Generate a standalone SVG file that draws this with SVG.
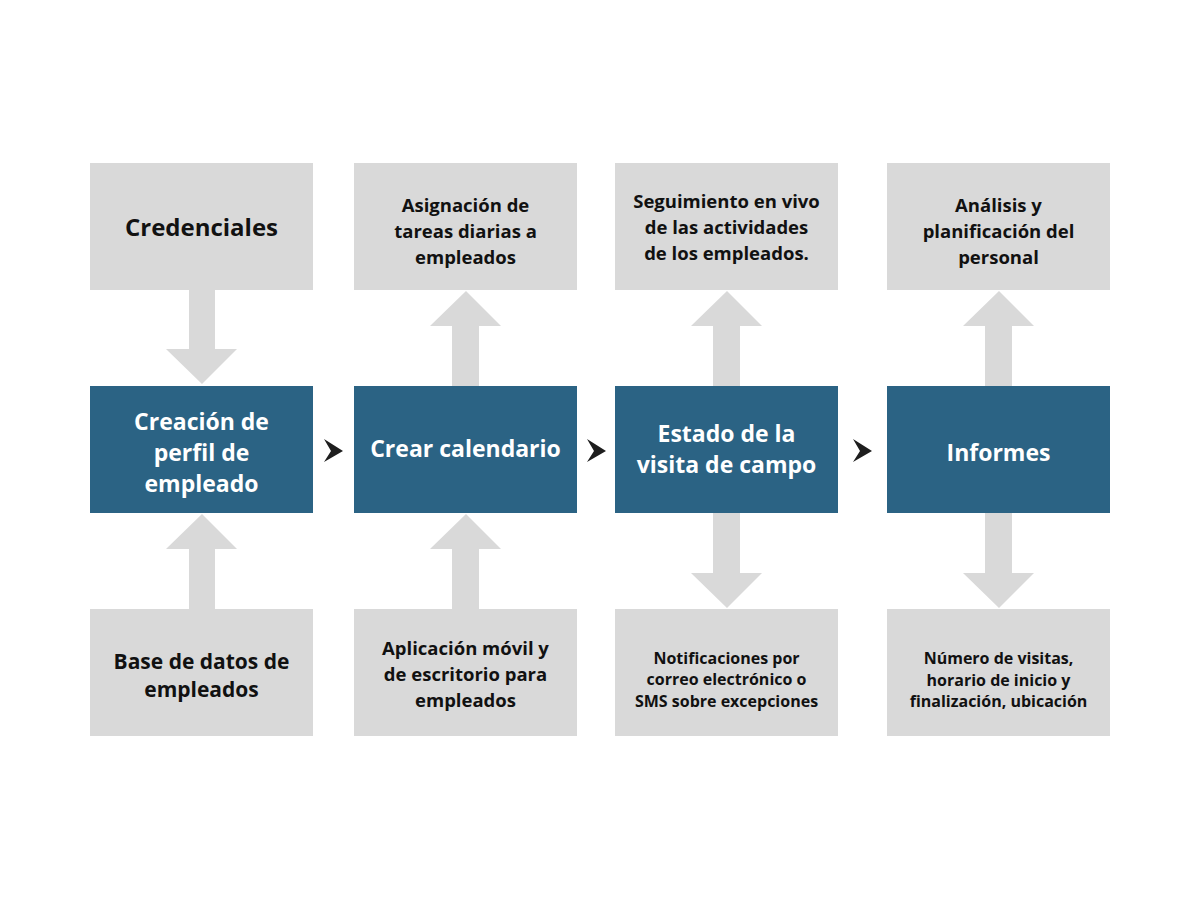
<svg xmlns="http://www.w3.org/2000/svg" width="1200" height="900" viewBox="0 0 1200 900">
<style>
.g{fill:#d9d9d9}
.b{fill:#2b6384}
.ar{fill:#d9d9d9}
.ch{fill:#1e1e1e}
text{font-family:"Open Sans","Liberation Sans",sans-serif;font-weight:700;text-anchor:middle}
.tk{fill:#111}
.tw{fill:#ffffff}
</style>
<rect width="1200" height="900" fill="#ffffff"/>
<g id="connectors">
<path class="ar" d="M189,290 H215 V349 H237 L202,384 L166,349 H189 Z"/>
<path class="ar" d="M189,609 H215 V549 H237 L202,514 L166,549 H189 Z"/>
<path class="ar" d="M452,386 H479 V326 H501 L466,291 L430,326 H452 Z"/>
<path class="ar" d="M452,609 H479 V549 H501 L466,514 L430,549 H452 Z"/>
<path class="ar" d="M713,386 H740 V326 H762 L727,291 L691,326 H713 Z"/>
<path class="ar" d="M713,513 H740 V573 H762 L727,608 L691,573 H713 Z"/>
<path class="ar" d="M985,386 H1012 V326 H1034 L999,291 L963,326 H985 Z"/>
<path class="ar" d="M985,513 H1012 V573 H1034 L999,608 L963,573 H985 Z"/>
<path class="ch" d="M324,439 L343,451 L324,462 L331,451 Z"/>
<path class="ch" d="M587,439 L606,451 L587,462 L594,451 Z"/>
<path class="ch" d="M853,439 L872,451 L853,462 L860,451 Z"/>
</g>
<g id="n-credenciales">
<rect class="g" x="90" y="163" width="223" height="127"/>
<text class="tk" x="201.5" y="236" font-size="24">Credenciales</text>
</g>
<g id="n-asignacion">
<rect class="g" x="354" y="163" width="223" height="127"/>
<text class="tk" font-size="18.5"><tspan x="465.5" y="212">Asignación de</tspan><tspan x="465.5" y="238">tareas diarias a</tspan><tspan x="465.5" y="264">empleados</tspan></text>
</g>
<g id="n-seguimiento">
<rect class="g" x="615" y="163" width="223" height="127"/>
<text class="tk" font-size="18.5"><tspan x="726.5" y="208">Seguimiento en vivo</tspan><tspan x="726.5" y="234">de las actividades</tspan><tspan x="726.5" y="260">de los empleados.</tspan></text>
</g>
<g id="n-analisis">
<rect class="g" x="887" y="163" width="223" height="127"/>
<text class="tk" font-size="18.5"><tspan x="998.5" y="212">Análisis y</tspan><tspan x="998.5" y="238">planificación del</tspan><tspan x="998.5" y="264">personal</tspan></text>
</g>
<g id="n-creacion">
<rect class="b" x="90" y="386" width="223" height="127"/>
<text class="tw" font-size="23"><tspan x="201.5" y="430">Creación de</tspan><tspan x="201.5" y="461">perfil de</tspan><tspan x="201.5" y="492">empleado</tspan></text>
</g>
<g id="n-calendario">
<rect class="b" x="354" y="386" width="223" height="127"/>
<text class="tw" font-size="23" x="465.5" y="457">Crear calendario</text>
</g>
<g id="n-estado">
<rect class="b" x="615" y="386" width="223" height="127"/>
<text class="tw" font-size="23"><tspan x="726.5" y="442">Estado de la</tspan><tspan x="726.5" y="473">visita de campo</tspan></text>
</g>
<g id="n-informes">
<rect class="b" x="887" y="386" width="223" height="127"/>
<text class="tw" font-size="23" x="998.5" y="461">Informes</text>
</g>
<g id="n-base">
<rect class="g" x="90" y="609" width="223" height="127"/>
<text class="tk" font-size="21"><tspan x="201.5" y="669">Base de datos de</tspan><tspan x="201.5" y="697">empleados</tspan></text>
</g>
<g id="n-aplicacion">
<rect class="g" x="354" y="609" width="223" height="127"/>
<text class="tk" font-size="18.5"><tspan x="465.5" y="655">Aplicación móvil y</tspan><tspan x="465.5" y="681">de escritorio para</tspan><tspan x="465.5" y="707">empleados</tspan></text>
</g>
<g id="n-notificaciones">
<rect class="g" x="615" y="609" width="223" height="127"/>
<text class="tk" font-size="16"><tspan x="726.5" y="664">Notificaciones por</tspan><tspan x="726.5" y="685">correo electrónico o</tspan><tspan x="726.5" y="707">SMS sobre excepciones</tspan></text>
</g>
<g id="n-numero">
<rect class="g" x="887" y="609" width="223" height="127"/>
<text class="tk" font-size="16"><tspan x="998.5" y="664">Número de visitas,</tspan><tspan x="998.5" y="686">horario de inicio y</tspan><tspan x="998.5" y="707">finalización, ubicación</tspan></text>
</g>
</svg>
